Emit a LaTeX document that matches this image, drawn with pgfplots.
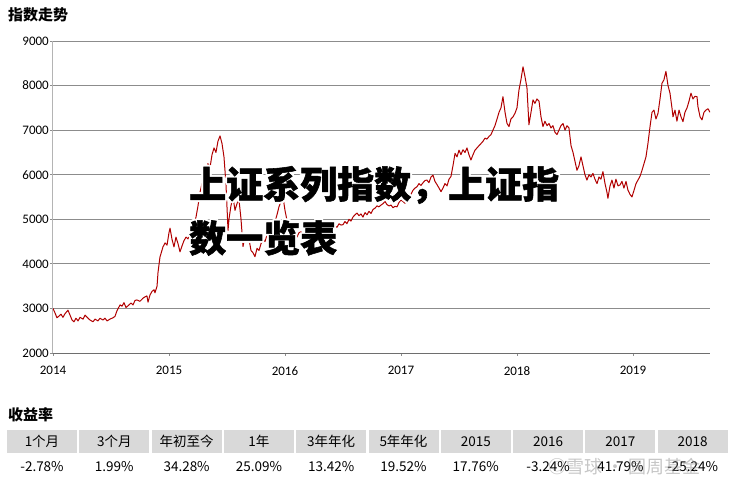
\documentclass[border=0pt]{standalone}
\usepackage{pgfplots}
\pgfplotsset{compat=1.18}
\usepackage{pgfplotstable}
\usepackage{fontspec}
\setmainfont{Noto Sans CJK SC}
\newfontfamily\cjk{Noto Sans CJK SC}
\newfontfamily\cjkheavy[BoldFeatures={FakeBold=1.5}]{Noto Sans CJK SC}
\newfontfamily\tickfont{Carlito}
\definecolor{linered}{HTML}{B00000}
\definecolor{gridgray}{HTML}{8C8C8C}
\definecolor{yaxisgray}{HTML}{B4B4B4}
\definecolor{axisdark}{HTML}{6E6E6E}
\definecolor{hdrgray}{HTML}{D9D9D9}

\pgfplotstableread{
year value
2014.000 3000
2014.017 2900
2014.034 2790
2014.052 2830
2014.069 2870
2014.086 2800
2014.103 2880
2014.129 2960
2014.147 2850
2014.164 2740
2014.181 2700
2014.198 2780
2014.216 2720
2014.233 2800
2014.259 2760
2014.276 2850
2014.302 2780
2014.319 2740
2014.345 2700
2014.362 2760
2014.388 2720
2014.405 2780
2014.431 2740
2014.448 2780
2014.466 2720
2014.491 2760
2014.517 2790
2014.534 2820
2014.552 2950
2014.578 3080
2014.595 3050
2014.612 3130
2014.629 3020
2014.647 3060
2014.672 3120
2014.690 3080
2014.707 3180
2014.724 3190
2014.750 3160
2014.776 3230
2014.793 3260
2014.810 3280
2014.819 3140
2014.836 3300
2014.853 3380
2014.871 3420
2014.879 3350
2014.897 3500
2014.905 3800
2014.922 4150
2014.931 4230
2014.948 4380
2014.966 4470
2014.983 4420
2015.000 4700
2015.009 4800
2015.026 4550
2015.043 4380
2015.060 4600
2015.078 4450
2015.095 4270
2015.112 4400
2015.129 4520
2015.147 4600
2015.164 4560
2015.181 4700
2015.198 4780
2015.216 4900
2015.233 5050
2015.250 5300
2015.267 5600
2015.284 5800
2015.302 5750
2015.319 6000
2015.336 6250
2015.353 6150
2015.371 6450
2015.388 6600
2015.405 6500
2015.422 6750
2015.440 6870
2015.457 6700
2015.474 6400
2015.491 5800
2015.509 4750
2015.517 5000
2015.534 5300
2015.552 5500
2015.569 5200
2015.586 5350
2015.603 5450
2015.621 5000
2015.638 4390
2015.655 4600
2015.672 4500
2015.690 4550
2015.707 4300
2015.724 4250
2015.741 4160
2015.759 4350
2015.776 4300
2015.793 4450
2015.810 4550
2015.828 4500
2015.845 4650
2015.862 4700
2015.879 4850
2015.897 4830
2015.914 4950
2015.931 5100
2015.948 5280
2015.966 5400
2015.983 5500
2016.000 5200
2016.017 4980
2016.034 4700
2016.052 4600
2016.069 4530
2016.086 4650
2016.103 4600
2016.121 4700
2016.138 4720
2016.155 4650
2016.172 4720
2016.190 4690
2016.207 4780
2016.224 4700
2016.241 4800
2016.259 4750
2016.276 4830
2016.293 4720
2016.310 4760
2016.328 4720
2016.345 4800
2016.362 4760
2016.379 4850
2016.397 4700
2016.414 4780
2016.431 4850
2016.448 4820
2016.466 4900
2016.483 4870
2016.500 4880
2016.517 4950
2016.534 4900
2016.552 5000
2016.569 4960
2016.586 5050
2016.603 5100
2016.621 5140
2016.638 5080
2016.655 5120
2016.672 5050
2016.690 5150
2016.707 5100
2016.724 5180
2016.741 5130
2016.759 5220
2016.776 5250
2016.793 5300
2016.810 5280
2016.828 5320
2016.845 5350
2016.862 5400
2016.879 5330
2016.897 5300
2016.914 5320
2016.931 5260
2016.948 5290
2016.966 5280
2016.983 5380
2017.000 5430
2017.017 5400
2017.034 5360
2017.052 5420
2017.069 5500
2017.086 5560
2017.103 5650
2017.121 5700
2017.138 5730
2017.155 5800
2017.172 5760
2017.190 5820
2017.207 5870
2017.224 5880
2017.241 5820
2017.259 5950
2017.276 5990
2017.293 5850
2017.310 5780
2017.328 5700
2017.345 5620
2017.362 5700
2017.379 5800
2017.397 5750
2017.414 5900
2017.431 5960
2017.448 6200
2017.466 6480
2017.483 6400
2017.500 6550
2017.517 6450
2017.534 6560
2017.552 6500
2017.569 6600
2017.586 6450
2017.603 6330
2017.621 6450
2017.638 6550
2017.655 6600
2017.672 6650
2017.690 6700
2017.707 6750
2017.724 6820
2017.741 6800
2017.759 6860
2017.776 6900
2017.793 7000
2017.810 7100
2017.828 7250
2017.845 7400
2017.862 7500
2017.879 7750
2017.897 7400
2017.914 7150
2017.931 7080
2017.948 7250
2017.966 7300
2017.983 7380
2018.000 7500
2018.017 7900
2018.034 8130
2018.052 8420
2018.069 8200
2018.086 7950
2018.103 7120
2018.121 7400
2018.138 7680
2018.155 7600
2018.172 7700
2018.190 7650
2018.207 7300
2018.224 7080
2018.241 7200
2018.259 7100
2018.276 7150
2018.293 7050
2018.310 7100
2018.328 6950
2018.345 6900
2018.362 7000
2018.379 7100
2018.397 7150
2018.414 7000
2018.431 7100
2018.448 7050
2018.466 6650
2018.483 6500
2018.500 6300
2018.517 6100
2018.534 6200
2018.552 6400
2018.569 6200
2018.586 6000
2018.603 5880
2018.621 6000
2018.638 5950
2018.655 6030
2018.672 5900
2018.690 5800
2018.707 5950
2018.724 5900
2018.741 6070
2018.759 5800
2018.776 5600
2018.784 5470
2018.802 5750
2018.819 5880
2018.836 5700
2018.853 5900
2018.871 5750
2018.888 5770
2018.905 5850
2018.922 5700
2018.940 5850
2018.957 5650
2018.974 5560
2018.991 5500
2019.009 5650
2019.026 5800
2019.043 5880
2019.060 5960
2019.078 6100
2019.095 6250
2019.112 6400
2019.129 6700
2019.147 7080
2019.164 7400
2019.181 7450
2019.198 7250
2019.216 7380
2019.233 7700
2019.250 8050
2019.267 8130
2019.284 8320
2019.302 8000
2019.319 7830
2019.336 7500
2019.345 7300
2019.362 7450
2019.379 7200
2019.397 7450
2019.414 7300
2019.431 7190
2019.448 7400
2019.466 7500
2019.483 7650
2019.500 7830
2019.517 7700
2019.534 7760
2019.552 7750
2019.560 7530
2019.578 7300
2019.595 7230
2019.612 7400
2019.629 7450
2019.647 7480
2019.664 7400
}\indexdata

\begin{document}
\begin{tikzpicture}[x=1pt,y=1pt]
\useasboundingbox (0,0) rectangle (745,485);
\node[anchor=west, inner sep=0pt, font=\cjk\bfseries\fontsize{15}{18}\selectfont] at (8,470) {指数走势};
\begin{axis}[
  at={(53pt,132pt)}, anchor=south west, scale only axis,
  width=657pt, height=312pt,
  xmin=2014, xmax=2019.664, ymin=2000, ymax=9000,
  axis x line*=bottom, axis y line*=left,
  x axis line style={axisdark, line width=0.8pt, -},
  y axis line style={yaxisgray, line width=1pt, -},
  xtick={2014,2015,2016,2017,2018,2019},
  ytick={2000,3000,4000,5000,6000,7000,8000,9000},
  ymajorgrids, grid style={gridgray, line width=0.8pt},
  tick align=outside, major tick length=3pt,
  tick style={gridgray, line width=0.8pt},
  ticklabel style={font=\tickfont\fontsize{13}{15}\selectfont},
  yticklabel style={inner xsep=1pt},
  xticklabel style={yshift=-7pt},
  /pgf/number format/1000 sep={},
  /pgf/number format/assume math mode=true,
]
\addplot[linered, line width=1pt, line join=round] table[x=year, y=value] {\indexdata};
\end{axis}
% overlay title with white halo
\foreach \dx/\dy in {-2/0,2/0,0/-2,0/2,-1.5/-1.5,1.5/1.5,-1.5/1.5,1.5/-1.5} {
  \node[anchor=west, inner sep=0pt, white, font=\cjkheavy\bfseries\fontsize{37}{40}\selectfont] at (189+\dx,300+\dy) {上证系列指数，上证指};
  \node[anchor=west, inner sep=0pt, white, font=\cjkheavy\bfseries\fontsize{37}{40}\selectfont] at (189+\dx,247+\dy) {数一览表};
}
\node[anchor=west, inner sep=0pt, black, font=\cjkheavy\bfseries\fontsize{37}{40}\selectfont] at (189,300) {上证系列指数，上证指};
\node[anchor=west, inner sep=0pt, black, font=\cjkheavy\bfseries\fontsize{37}{40}\selectfont] at (189,247) {数一览表};
% returns table
\node[anchor=west, inner sep=0pt, font=\cjk\bfseries\fontsize{15}{18}\selectfont] at (8,70) {收益率};
\foreach \i/\h/\v in {0/1个月/-2.78\%, 1/3个月/1.99\%, 2/年初至今/34.28\%, 3/1年/25.09\%, 4/3年年化/13.42\%, 5/5年年化/19.52\%, 6/2015/17.76\%, 7/2016/-3.24\%, 8/2017/41.79\%, 9/2018/-25.24\%} {
  \fill[hdrgray] (7+72.3*\i,32) rectangle (77+72.3*\i,55);
  \node[font=\cjk\fontsize{13.5}{16}\selectfont, inner sep=0pt] at (42+72.3*\i,43.5) {\h};
  \node[font=\cjk\fontsize{13.5}{16}\selectfont, inner sep=0pt] at (42+72.3*\i,18) {\v};
}
\node[anchor=west, inner sep=0pt, gray, opacity=0.45, font=\cjk\fontsize{18}{20}\selectfont] at (548,18) {◎雪球 · 圆周基金};
\end{tikzpicture}
\end{document}
